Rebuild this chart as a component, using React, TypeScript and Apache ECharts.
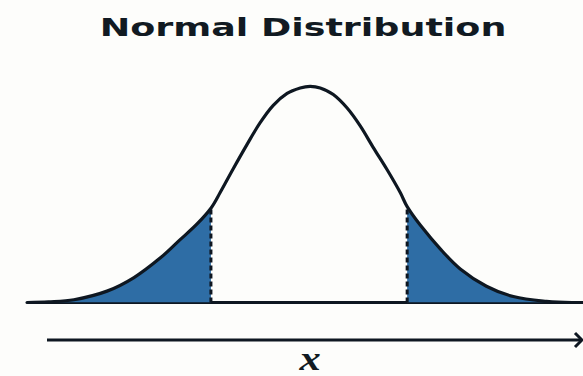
import React, { useEffect, useRef } from "react";
import * as echarts from "echarts";

const curveX = [-3.68, -3.4, -3.07, -2.64, -2.29, -1.95, -1.69, -1.47, -1.29, -1.17, -1.0, -0.82, -0.65, -0.48, -0.3, -0.13, 0, 0.13, 0.3, 0.48, 0.65, 0.82, 1.0, 1.17, 1.26, 1.43, 1.69, 1.95, 2.29, 2.64, 3.07, 3.4, 3.545];
const curveY = [0, 0.001, 0.005, 0.021, 0.046, 0.082, 0.116, 0.145, 0.174, 0.203, 0.247, 0.292, 0.332, 0.364, 0.386, 0.396, 0.399, 0.396, 0.384, 0.359, 0.326, 0.286, 0.245, 0.203, 0.177, 0.143, 0.099, 0.062, 0.03, 0.011, 0.002, 0, 0];
const leftCut = -1.29;
const rightCut = 1.26;
const titleText = "Normal Distribution";
const axisLabel = "x";

const INK = "#0e1721";
const FILL = "#2e6da5";

export default function App() {
  const ref = useRef<HTMLDivElement>(null);
  useEffect(() => {
    if (!ref.current) return;
    const chart = echarts.init(ref.current, null, { renderer: "svg" });
    const pts = curveX.map((x, i) => [x, curveY[i]]);
    const leftPts = pts.filter((p) => p[0] <= leftCut + 1e-9);
    const rightPts = pts.filter((p) => p[0] >= rightCut - 1e-9);
    const leftH = curveY[curveX.indexOf(leftCut)];
    const rightH = curveY[curveX.indexOf(rightCut)];
    chart.setOption({
      animation: false,
      backgroundColor: "#fdfdfb",
      grid: { left: 27, right: 0, top: 75, bottom: 73.5 },
      xAxis: {
        type: "value",
        min: curveX[0],
        max: curveX[curveX.length - 1],
        axisLine: { show: true, onZero: false, lineStyle: { color: INK, width: 3 } },
        axisTick: { show: false },
        axisLabel: { show: false },
        splitLine: { show: false },
      },
      yAxis: {
        type: "value",
        min: 0,
        max: 0.42,
        show: false,
      },
      series: [
        {
          type: "line",
          data: leftPts,
          smooth: 0.35,
          symbol: "none",
          lineStyle: { width: 0 },
          areaStyle: { color: FILL, opacity: 1 },
          z: 1,
        },
        {
          type: "line",
          data: rightPts,
          smooth: 0.35,
          symbol: "none",
          lineStyle: { width: 0 },
          areaStyle: { color: FILL, opacity: 1 },
          z: 1,
        },
        {
          type: "custom",
          data: [[leftCut, leftH], [rightCut, rightH]],
          z: 2,
          silent: true,
          renderItem: (params: any, api: any) => {
            const top = api.coord([api.value(0), api.value(1)]);
            const bottom = api.coord([api.value(0), 0]);
            return {
              type: "line",
              shape: { x1: top[0], y1: bottom[1], x2: top[0], y2: top[1] },
              style: { stroke: INK, lineWidth: 3, lineDash: [5, 3], fill: null },
            };
          },
        },
        {
          type: "line",
          data: pts,
          smooth: 0.35,
          symbol: "none",
          lineStyle: { color: INK, width: 3.2 },
          z: 3,
        },
      ],
      graphic: [
        {
          type: "text",
          x: 303,
          y: 27,
          scaleX: 1.52,
          style: {
            text: titleText,
            fill: "#111a22",
            font: "bold 24px 'DejaVu Sans'",
            textAlign: "center",
            textVerticalAlign: "middle",
          },
        },
        {
          type: "line",
          shape: { x1: 47, y1: 340, x2: 581, y2: 340 },
          style: { stroke: INK, lineWidth: 3 },
        },
        {
          type: "polyline",
          shape: { points: [[575, 333], [582, 340], [575, 347]] },
          style: { stroke: INK, lineWidth: 3, fill: "none" },
        },
        {
          type: "text",
          x: 310,
          y: 359,
          scaleX: 1.25,
          style: {
            text: axisLabel,
            fill: "#111a22",
            font: "bold italic 34px 'Liberation Serif'",
            textAlign: "center",
            textVerticalAlign: "middle",
          },
        },
      ],
    });
    return () => chart.dispose();
  }, []);
  return (
    <div
      ref={ref}
      style={{ position: "fixed", left: 0, top: 0, width: 583, height: 376 }}
    />
  );
}
